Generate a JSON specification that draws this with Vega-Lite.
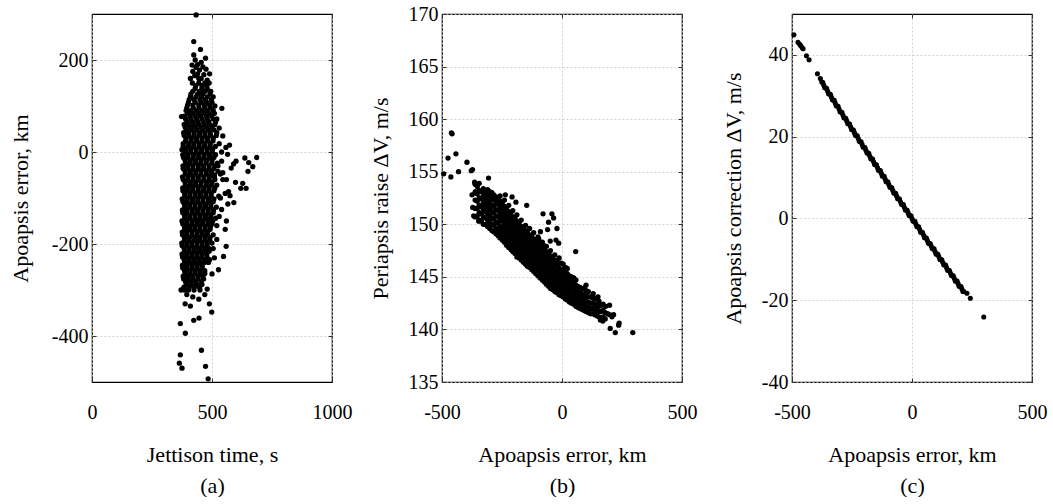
{
"$schema": "https://vega.github.io/schema/vega-lite/v6.json",
"padding": {"left": 8, "top": 3, "right": 5, "bottom": 0},
"background": "white",
"bounds": "flush",
"spacing": 110,
"config": {
  "font": "Liberation Serif, Times New Roman, serif",
  "view": {"stroke": "#000", "strokeWidth": 1.2},
  "axis": {"domain": false, "grid": true, "gridColor": "#c8c8c8", "gridDash": [2, 2], "gridWidth": 0.8, "ticks": true, "tickSize": -4, "tickColor": "#333", "labelFont": "Liberation Serif, Times New Roman, serif", "labelFontSize": 20, "labelColor": "#000", "titleFont": "Liberation Serif, Times New Roman, serif", "titleFontSize": 22, "titleFontWeight": "normal", "titleColor": "#000", "labelOverlap": false},
  "axisX": {"labelPadding": 24, "titlePadding": 22, "titleLineHeight": 31, "labelFlush": false},
  "axisY": {"labelPadding": 8, "titlePadding": 10}
},
"datasets": {
"a": [
{"t":418,"e":150},{"t":445,"e":150},{"t":470,"e":150},{"t":488,"e":150},
{"t":430,"e":138},{"t":458,"e":138},{"t":480,"e":138},
{"t":412,"e":126},{"t":440,"e":126},{"t":462,"e":126},{"t":492,"e":126},
{"t":405,"e":114},{"t":425,"e":114},{"t":450,"e":114},{"t":472,"e":114},{"t":497,"e":114},
{"t":398,"e":102},{"t":420,"e":102},{"t":445,"e":102},{"t":468,"e":102},{"t":490,"e":102},
{"t":392,"e":90},{"t":412,"e":90},{"t":436,"e":90},{"t":458,"e":90},{"t":480,"e":90},{"t":505,"e":90},
{"t":385,"e":78},{"t":408,"e":78},{"t":430,"e":78},{"t":452,"e":78},{"t":476,"e":78},{"t":498,"e":78},
{"t":396,"e":66},{"t":418,"e":66},{"t":440,"e":66},{"t":463,"e":66},{"t":486,"e":66},{"t":515,"e":66},
{"t":388,"e":54},{"t":410,"e":54},{"t":432,"e":54},{"t":455,"e":54},{"t":478,"e":54},{"t":500,"e":54},
{"t":382,"e":42},{"t":402,"e":42},{"t":425,"e":42},{"t":448,"e":42},{"t":470,"e":42},{"t":492,"e":42},{"t":520,"e":42},
{"t":392,"e":30},{"t":414,"e":30},{"t":436,"e":30},{"t":459,"e":30},{"t":481,"e":30},{"t":505,"e":30},
{"t":380,"e":18},{"t":403,"e":18},{"t":425,"e":18},{"t":447,"e":18},{"t":470,"e":18},{"t":493,"e":18},{"t":530,"e":18},
{"t":390,"e":6},{"t":412,"e":6},{"t":434,"e":6},{"t":457,"e":6},{"t":480,"e":6},{"t":502,"e":6},
{"t":378,"e":-6},{"t":400,"e":-6},{"t":423,"e":-6},{"t":445,"e":-6},{"t":468,"e":-6},{"t":490,"e":-6},{"t":515,"e":-6},
{"t":388,"e":-18},{"t":410,"e":-18},{"t":432,"e":-18},{"t":455,"e":-18},{"t":477,"e":-18},{"t":500,"e":-18},
{"t":379,"e":-30},{"t":398,"e":-30},{"t":420,"e":-30},{"t":443,"e":-30},{"t":465,"e":-30},{"t":488,"e":-30},{"t":512,"e":-30},
{"t":388,"e":-42},{"t":410,"e":-42},{"t":432,"e":-42},{"t":454,"e":-42},{"t":476,"e":-42},{"t":498,"e":-42},{"t":525,"e":-42},
{"t":377,"e":-54},{"t":400,"e":-54},{"t":421,"e":-54},{"t":443,"e":-54},{"t":466,"e":-54},{"t":489,"e":-54},{"t":510,"e":-54},
{"t":388,"e":-66},{"t":410,"e":-66},{"t":432,"e":-66},{"t":455,"e":-66},{"t":478,"e":-66},{"t":500,"e":-66},
{"t":378,"e":-78},{"t":399,"e":-78},{"t":420,"e":-78},{"t":443,"e":-78},{"t":466,"e":-78},{"t":488,"e":-78},{"t":512,"e":-78},
{"t":386,"e":-90},{"t":408,"e":-90},{"t":430,"e":-90},{"t":452,"e":-90},{"t":475,"e":-90},{"t":497,"e":-90},
{"t":376,"e":-102},{"t":397,"e":-102},{"t":419,"e":-102},{"t":441,"e":-102},{"t":463,"e":-102},{"t":486,"e":-102},{"t":508,"e":-102},
{"t":385,"e":-114},{"t":407,"e":-114},{"t":429,"e":-114},{"t":451,"e":-114},{"t":473,"e":-114},{"t":495,"e":-114},
{"t":377,"e":-126},{"t":396,"e":-126},{"t":418,"e":-126},{"t":440,"e":-126},{"t":462,"e":-126},{"t":484,"e":-126},{"t":506,"e":-126},
{"t":386,"e":-138},{"t":407,"e":-138},{"t":429,"e":-138},{"t":451,"e":-138},{"t":473,"e":-138},{"t":495,"e":-138},
{"t":375,"e":-150},{"t":396,"e":-150},{"t":418,"e":-150},{"t":440,"e":-150},{"t":461,"e":-150},{"t":483,"e":-150},{"t":503,"e":-150},
{"t":385,"e":-162},{"t":406,"e":-162},{"t":428,"e":-162},{"t":450,"e":-162},{"t":472,"e":-162},{"t":494,"e":-162},
{"t":376,"e":-174},{"t":396,"e":-174},{"t":417,"e":-174},{"t":439,"e":-174},{"t":460,"e":-174},{"t":482,"e":-174},
{"t":385,"e":-186},{"t":406,"e":-186},{"t":428,"e":-186},{"t":449,"e":-186},{"t":471,"e":-186},{"t":492,"e":-186},
{"t":374,"e":-198},{"t":395,"e":-198},{"t":416,"e":-198},{"t":438,"e":-198},{"t":459,"e":-198},{"t":480,"e":-198},{"t":500,"e":-198},
{"t":384,"e":-210},{"t":405,"e":-210},{"t":427,"e":-210},{"t":448,"e":-210},{"t":470,"e":-210},{"t":489,"e":-210},
{"t":375,"e":-222},{"t":395,"e":-222},{"t":416,"e":-222},{"t":437,"e":-222},{"t":458,"e":-222},{"t":478,"e":-222},
{"t":384,"e":-234},{"t":405,"e":-234},{"t":426,"e":-234},{"t":447,"e":-234},{"t":468,"e":-234},{"t":490,"e":-234},
{"t":377,"e":-246},{"t":396,"e":-246},{"t":417,"e":-246},{"t":438,"e":-246},{"t":459,"e":-246},
{"t":386,"e":-258},{"t":407,"e":-258},{"t":428,"e":-258},{"t":449,"e":-258},{"t":470,"e":-258},
{"t":380,"e":-270},{"t":400,"e":-270},{"t":420,"e":-270},{"t":442,"e":-270},{"t":462,"e":-270},
{"t":390,"e":-282},{"t":411,"e":-282},{"t":432,"e":-282},{"t":455,"e":-282},
{"t":383,"e":-294},{"t":405,"e":-294},{"t":426,"e":-294},{"t":448,"e":-294},
{"t":432,"e":144},{"t":458,"e":144},{"t":478,"e":144},
{"t":420,"e":132},{"t":448,"e":132},{"t":472,"e":132},{"t":495,"e":132},
{"t":410,"e":120},{"t":433,"e":120},{"t":456,"e":120},{"t":480,"e":120},
{"t":402,"e":108},{"t":430,"e":108},{"t":455,"e":108},{"t":478,"e":108},{"t":500,"e":108},
{"t":395,"e":96},{"t":422,"e":96},{"t":446,"e":96},{"t":470,"e":96},{"t":493,"e":96},
{"t":398,"e":84},{"t":420,"e":84},{"t":443,"e":84},{"t":466,"e":84},{"t":488,"e":84},{"t":510,"e":84},
{"t":390,"e":72},{"t":412,"e":72},{"t":435,"e":72},{"t":458,"e":72},{"t":480,"e":72},{"t":505,"e":72},
{"t":384,"e":60},{"t":400,"e":60},{"t":422,"e":60},{"t":444,"e":60},{"t":468,"e":60},{"t":490,"e":60},{"t":512,"e":60},
{"t":393,"e":48},{"t":415,"e":48},{"t":438,"e":48},{"t":461,"e":48},{"t":484,"e":48},{"t":508,"e":48},
{"t":384,"e":36},{"t":404,"e":36},{"t":426,"e":36},{"t":448,"e":36},{"t":471,"e":36},{"t":494,"e":36},{"t":518,"e":36},
{"t":390,"e":24},{"t":413,"e":24},{"t":436,"e":24},{"t":458,"e":24},{"t":481,"e":24},{"t":504,"e":24},
{"t":380,"e":12},{"t":401,"e":12},{"t":423,"e":12},{"t":446,"e":12},{"t":468,"e":12},{"t":491,"e":12},{"t":514,"e":12},
{"t":389,"e":0},{"t":411,"e":0},{"t":434,"e":0},{"t":456,"e":0},{"t":479,"e":0},{"t":501,"e":0},{"t":540,"e":0},
{"t":381,"e":-12},{"t":399,"e":-12},{"t":421,"e":-12},{"t":444,"e":-12},{"t":466,"e":-12},{"t":489,"e":-12},{"t":508,"e":-12},
{"t":390,"e":-24},{"t":409,"e":-24},{"t":431,"e":-24},{"t":453,"e":-24},{"t":476,"e":-24},{"t":499,"e":-24},{"t":522,"e":-24},
{"t":380,"e":-36},{"t":399,"e":-36},{"t":421,"e":-36},{"t":443,"e":-36},{"t":465,"e":-36},{"t":487,"e":-36},{"t":508,"e":-36},
{"t":389,"e":-48},{"t":410,"e":-48},{"t":432,"e":-48},{"t":454,"e":-48},{"t":477,"e":-48},{"t":499,"e":-48},{"t":535,"e":-48},
{"t":380,"e":-60},{"t":399,"e":-60},{"t":421,"e":-60},{"t":443,"e":-60},{"t":466,"e":-60},{"t":488,"e":-60},{"t":512,"e":-60},
{"t":389,"e":-72},{"t":410,"e":-72},{"t":431,"e":-72},{"t":453,"e":-72},{"t":476,"e":-72},{"t":497,"e":-72},{"t":520,"e":-72},
{"t":379,"e":-84},{"t":397,"e":-84},{"t":419,"e":-84},{"t":441,"e":-84},{"t":463,"e":-84},{"t":486,"e":-84},{"t":508,"e":-84},
{"t":387,"e":-96},{"t":408,"e":-96},{"t":430,"e":-96},{"t":452,"e":-96},{"t":474,"e":-96},{"t":496,"e":-96},{"t":528,"e":-96},
{"t":379,"e":-108},{"t":396,"e":-108},{"t":418,"e":-108},{"t":440,"e":-108},{"t":462,"e":-108},{"t":485,"e":-108},{"t":505,"e":-108},
{"t":387,"e":-120},{"t":407,"e":-120},{"t":429,"e":-120},{"t":451,"e":-120},{"t":473,"e":-120},{"t":495,"e":-120},{"t":518,"e":-120},
{"t":378,"e":-132},{"t":396,"e":-132},{"t":418,"e":-132},{"t":440,"e":-132},{"t":462,"e":-132},{"t":484,"e":-132},{"t":505,"e":-132},
{"t":386,"e":-144},{"t":407,"e":-144},{"t":429,"e":-144},{"t":450,"e":-144},{"t":472,"e":-144},{"t":494,"e":-144},{"t":515,"e":-144},
{"t":378,"e":-156},{"t":396,"e":-156},{"t":417,"e":-156},{"t":439,"e":-156},{"t":461,"e":-156},{"t":483,"e":-156},{"t":500,"e":-156},
{"t":386,"e":-168},{"t":406,"e":-168},{"t":428,"e":-168},{"t":449,"e":-168},{"t":471,"e":-168},{"t":492,"e":-168},
{"t":377,"e":-180},{"t":395,"e":-180},{"t":417,"e":-180},{"t":438,"e":-180},{"t":460,"e":-180},{"t":481,"e":-180},{"t":505,"e":-180},
{"t":385,"e":-192},{"t":405,"e":-192},{"t":427,"e":-192},{"t":448,"e":-192},{"t":470,"e":-192},{"t":490,"e":-192},
{"t":376,"e":-204},{"t":395,"e":-204},{"t":416,"e":-204},{"t":437,"e":-204},{"t":459,"e":-204},{"t":480,"e":-204},
{"t":385,"e":-216},{"t":405,"e":-216},{"t":426,"e":-216},{"t":447,"e":-216},{"t":468,"e":-216},{"t":488,"e":-216},
{"t":377,"e":-228},{"t":394,"e":-228},{"t":415,"e":-228},{"t":436,"e":-228},{"t":457,"e":-228},{"t":479,"e":-228},
{"t":386,"e":-240},{"t":406,"e":-240},{"t":427,"e":-240},{"t":448,"e":-240},{"t":468,"e":-240},{"t":485,"e":-240},
{"t":378,"e":-252},{"t":396,"e":-252},{"t":417,"e":-252},{"t":438,"e":-252},{"t":459,"e":-252},
{"t":388,"e":-264},{"t":408,"e":-264},{"t":429,"e":-264},{"t":450,"e":-264},{"t":470,"e":-264},
{"t":382,"e":-276},{"t":401,"e":-276},{"t":421,"e":-276},{"t":442,"e":-276},{"t":465,"e":-276},
{"t":393,"e":-288},{"t":414,"e":-288},{"t":436,"e":-288},{"t":458,"e":-288},
{"t":385,"e":-300},{"t":402,"e":-300},{"t":425,"e":-300},{"t":450,"e":-300},
{"t":440,"e":190},{"t":455,"e":195},{"t":462,"e":185},{"t":420,"e":175},{"t":475,"e":180},{"t":445,"e":160},{"t":490,"e":170},{"t":430,"e":200},{"t":410,"e":160},
{"t":434,"e":298},{"t":424,"e":240},{"t":452,"e":223},{"t":473,"e":204},{"t":424,"e":211},{"t":417,"e":189},{"t":433,"e":184},{"t":448,"e":178},{"t":466,"e":168},{"t":428,"e":166},{"t":455,"e":160},{"t":480,"e":156},{"t":440,"e":170},{"t":462,"e":128},{"t":505,"e":120},{"t":541,"e":95},{"t":373,"e":77},{"t":512,"e":100},{"t":520,"e":72},{"t":530,"e":52},{"t":545,"e":35},{"t":375,"e":5},{"t":558,"e":10},{"t":573,"e":15},{"t":590,"e":-26},{"t":565,"e":-5},{"t":580,"e":-35},{"t":600,"e":-20},{"t":637,"e":-13},{"t":686,"e":-12},{"t":653,"e":-23},{"t":670,"e":-32},{"t":650,"e":-42},{"t":628,"e":-68},{"t":642,"e":-79},{"t":620,"e":-79},{"t":598,"e":-66},{"t":591,"e":-110},{"t":566,"e":-113},{"t":569,"e":-86},{"t":545,"e":-60},{"t":555,"e":-90},{"t":540,"e":-125},{"t":530,"e":-140},{"t":560,"e":-150},{"t":555,"e":-168},{"t":559,"e":-205},{"t":548,"e":-227},{"t":527,"e":-256},{"t":520,"e":-190},{"t":510,"e":-230},{"t":500,"e":-265},{"t":371,"e":-300},{"t":395,"e":-310},{"t":420,"e":-315},{"t":445,"e":-320},{"t":470,"e":-310},{"t":489,"e":-330},{"t":499,"e":-348},{"t":410,"e":-335},{"t":388,"e":-330},{"t":424,"e":-366},{"t":446,"e":-361},{"t":368,"e":-373},{"t":389,"e":-394},{"t":456,"e":-431},{"t":368,"e":-441},{"t":364,"e":-459},{"t":375,"e":-470},{"t":473,"e":-466},{"t":484,"e":-493},{"t":480,"e":-298},{"t":505,"e":-210},{"t":520,"e":-160},{"t":535,"e":-100},{"t":510,"e":-50},{"t":540,"e":-20},{"t":525,"e":-30},{"t":545,"e":-45},{"t":560,"e":-60},{"t":575,"e":-95}
],
"b": [
{"e":-362,"p":150.7},{"e":-362,"p":151.5},{"e":-362,"p":152.3},{"e":-362,"p":153.0},{"e":-362,"p":153.8},
{"e":-345,"p":150.4},{"e":-345,"p":151.1},{"e":-345,"p":151.8},{"e":-345,"p":152.5},{"e":-345,"p":153.2},{"e":-345,"p":153.9},
{"e":-328,"p":150.0},{"e":-328,"p":150.7},{"e":-328,"p":151.4},{"e":-328,"p":152.0},{"e":-328,"p":152.7},{"e":-328,"p":153.4},
{"e":-310,"p":149.8},{"e":-310,"p":150.4},{"e":-310,"p":151.0},{"e":-310,"p":151.6},{"e":-310,"p":152.2},{"e":-310,"p":152.8},{"e":-310,"p":153.3},
{"e":-292,"p":149.4},{"e":-292,"p":150.0},{"e":-292,"p":150.6},{"e":-292,"p":151.2},{"e":-292,"p":151.8},{"e":-292,"p":152.4},{"e":-292,"p":153.0},
{"e":-275,"p":149.1},{"e":-275,"p":149.6},{"e":-275,"p":150.2},{"e":-275,"p":150.8},{"e":-275,"p":151.4},{"e":-275,"p":152.0},{"e":-275,"p":152.6},
{"e":-258,"p":148.7},{"e":-258,"p":149.3},{"e":-258,"p":149.8},{"e":-258,"p":150.4},{"e":-258,"p":151.0},{"e":-258,"p":151.6},{"e":-258,"p":152.2},{"e":-258,"p":152.7},
{"e":-240,"p":148.3},{"e":-240,"p":148.8},{"e":-240,"p":149.4},{"e":-240,"p":150.0},{"e":-240,"p":150.5},{"e":-240,"p":151.1},{"e":-240,"p":151.7},{"e":-240,"p":152.3},
{"e":-222,"p":147.8},{"e":-222,"p":148.4},{"e":-222,"p":148.9},{"e":-222,"p":149.5},{"e":-222,"p":150.1},{"e":-222,"p":150.6},{"e":-222,"p":151.2},{"e":-222,"p":151.8},
{"e":-205,"p":147.4},{"e":-205,"p":147.9},{"e":-205,"p":148.5},{"e":-205,"p":149.0},{"e":-205,"p":149.6},{"e":-205,"p":150.2},{"e":-205,"p":150.7},{"e":-205,"p":151.3},
{"e":-188,"p":146.9},{"e":-188,"p":147.5},{"e":-188,"p":148.0},{"e":-188,"p":148.6},{"e":-188,"p":149.1},{"e":-188,"p":149.7},{"e":-188,"p":150.3},{"e":-188,"p":150.9},
{"e":-170,"p":146.6},{"e":-170,"p":147.1},{"e":-170,"p":147.6},{"e":-170,"p":148.2},{"e":-170,"p":148.7},{"e":-170,"p":149.3},{"e":-170,"p":149.8},{"e":-170,"p":150.4},
{"e":-152,"p":146.2},{"e":-152,"p":146.7},{"e":-152,"p":147.2},{"e":-152,"p":147.8},{"e":-152,"p":148.3},{"e":-152,"p":148.9},{"e":-152,"p":149.4},{"e":-152,"p":149.9},
{"e":-135,"p":145.9},{"e":-135,"p":146.4},{"e":-135,"p":146.9},{"e":-135,"p":147.4},{"e":-135,"p":148.0},{"e":-135,"p":148.5},{"e":-135,"p":149.0},{"e":-135,"p":149.6},
{"e":-118,"p":145.5},{"e":-118,"p":146.0},{"e":-118,"p":146.5},{"e":-118,"p":147.0},{"e":-118,"p":147.6},{"e":-118,"p":148.1},{"e":-118,"p":148.6},{"e":-118,"p":149.2},
{"e":-100,"p":145.1},{"e":-100,"p":145.6},{"e":-100,"p":146.1},{"e":-100,"p":146.6},{"e":-100,"p":147.2},{"e":-100,"p":147.7},{"e":-100,"p":148.2},{"e":-100,"p":148.8},
{"e":-82,"p":144.7},{"e":-82,"p":145.2},{"e":-82,"p":145.7},{"e":-82,"p":146.2},{"e":-82,"p":146.7},{"e":-82,"p":147.2},{"e":-82,"p":147.8},{"e":-82,"p":148.3},
{"e":-65,"p":144.3},{"e":-65,"p":144.8},{"e":-65,"p":145.3},{"e":-65,"p":145.8},{"e":-65,"p":146.3},{"e":-65,"p":146.8},{"e":-65,"p":147.4},{"e":-65,"p":147.9},
{"e":-48,"p":143.9},{"e":-48,"p":144.4},{"e":-48,"p":144.9},{"e":-48,"p":145.4},{"e":-48,"p":145.9},{"e":-48,"p":146.4},{"e":-48,"p":147.0},{"e":-48,"p":147.5},
{"e":-30,"p":143.6},{"e":-30,"p":144.1},{"e":-30,"p":144.6},{"e":-30,"p":145.1},{"e":-30,"p":145.6},{"e":-30,"p":146.1},{"e":-30,"p":146.6},{"e":-30,"p":147.1},
{"e":-12,"p":143.3},{"e":-12,"p":143.8},{"e":-12,"p":144.3},{"e":-12,"p":144.8},{"e":-12,"p":145.3},{"e":-12,"p":145.8},{"e":-12,"p":146.3},{"e":-12,"p":146.8},
{"e":5,"p":143.1},{"e":5,"p":143.6},{"e":5,"p":144.1},{"e":5,"p":144.6},{"e":5,"p":145.1},{"e":5,"p":145.6},{"e":5,"p":146.2},
{"e":22,"p":142.8},{"e":22,"p":143.3},{"e":22,"p":143.8},{"e":22,"p":144.3},{"e":22,"p":144.8},{"e":22,"p":145.3},{"e":22,"p":145.8},
{"e":40,"p":142.5},{"e":40,"p":143.0},{"e":40,"p":143.5},{"e":40,"p":144.0},{"e":40,"p":144.5},{"e":40,"p":145.0},
{"e":58,"p":142.2},{"e":58,"p":142.7},{"e":58,"p":143.2},{"e":58,"p":143.7},{"e":58,"p":144.2},{"e":58,"p":144.7},
{"e":75,"p":142.0},{"e":75,"p":142.5},{"e":75,"p":143.0},{"e":75,"p":143.5},{"e":75,"p":144.0},
{"e":92,"p":141.8},{"e":92,"p":142.3},{"e":92,"p":142.8},{"e":92,"p":143.3},{"e":92,"p":143.9},
{"e":110,"p":141.6},{"e":110,"p":142.1},{"e":110,"p":142.6},{"e":110,"p":143.1},{"e":110,"p":143.6},
{"e":128,"p":141.5},{"e":128,"p":142.0},{"e":128,"p":142.5},{"e":128,"p":143.0},
{"e":145,"p":141.3},{"e":145,"p":141.8},{"e":145,"p":142.3},{"e":145,"p":142.9},
{"e":162,"p":141.1},{"e":162,"p":141.7},{"e":162,"p":142.3},
{"e":180,"p":141.0},{"e":180,"p":141.6},{"e":180,"p":142.2},
{"e":198,"p":141.4},{"e":198,"p":142.3},
{"e":-353,"p":150.8},{"e":-353,"p":151.5},{"e":-353,"p":152.2},{"e":-353,"p":152.9},{"e":-353,"p":153.6},
{"e":-336,"p":150.3},{"e":-336,"p":151.0},{"e":-336,"p":151.7},{"e":-336,"p":152.4},{"e":-336,"p":153.1},
{"e":-319,"p":150.0},{"e":-319,"p":150.6},{"e":-319,"p":151.2},{"e":-319,"p":151.8},{"e":-319,"p":152.4},{"e":-319,"p":153.0},
{"e":-301,"p":149.6},{"e":-301,"p":150.2},{"e":-301,"p":150.8},{"e":-301,"p":151.4},{"e":-301,"p":152.0},{"e":-301,"p":152.6},{"e":-301,"p":153.1},
{"e":-284,"p":149.3},{"e":-284,"p":149.9},{"e":-284,"p":150.5},{"e":-284,"p":151.1},{"e":-284,"p":151.7},{"e":-284,"p":152.3},{"e":-284,"p":152.8},
{"e":-266,"p":148.9},{"e":-266,"p":149.5},{"e":-266,"p":150.1},{"e":-266,"p":150.7},{"e":-266,"p":151.3},{"e":-266,"p":151.9},{"e":-266,"p":152.4},
{"e":-249,"p":148.5},{"e":-249,"p":149.1},{"e":-249,"p":149.7},{"e":-249,"p":150.3},{"e":-249,"p":150.8},{"e":-249,"p":151.4},{"e":-249,"p":152.0},
{"e":-231,"p":148.0},{"e":-231,"p":148.6},{"e":-231,"p":149.2},{"e":-231,"p":149.7},{"e":-231,"p":150.3},{"e":-231,"p":150.9},{"e":-231,"p":151.5},
{"e":-213,"p":147.6},{"e":-213,"p":148.2},{"e":-213,"p":148.7},{"e":-213,"p":149.3},{"e":-213,"p":149.9},{"e":-213,"p":150.4},{"e":-213,"p":151.0},
{"e":-196,"p":147.2},{"e":-196,"p":147.7},{"e":-196,"p":148.3},{"e":-196,"p":148.8},{"e":-196,"p":149.4},{"e":-196,"p":150.0},{"e":-196,"p":150.6},
{"e":-179,"p":146.8},{"e":-179,"p":147.3},{"e":-179,"p":147.8},{"e":-179,"p":148.4},{"e":-179,"p":148.9},{"e":-179,"p":149.5},{"e":-179,"p":150.1},
{"e":-161,"p":146.4},{"e":-161,"p":146.9},{"e":-161,"p":147.4},{"e":-161,"p":148.0},{"e":-161,"p":148.5},{"e":-161,"p":149.1},{"e":-161,"p":149.6},
{"e":-144,"p":146.0},{"e":-144,"p":146.5},{"e":-144,"p":147.0},{"e":-144,"p":147.6},{"e":-144,"p":148.1},{"e":-144,"p":148.7},{"e":-144,"p":149.2},
{"e":-126,"p":145.7},{"e":-126,"p":146.2},{"e":-126,"p":146.7},{"e":-126,"p":147.2},{"e":-126,"p":147.8},{"e":-126,"p":148.3},{"e":-126,"p":148.8},
{"e":-109,"p":145.3},{"e":-109,"p":145.8},{"e":-109,"p":146.3},{"e":-109,"p":146.8},{"e":-109,"p":147.4},{"e":-109,"p":147.9},{"e":-109,"p":148.4},
{"e":-91,"p":144.9},{"e":-91,"p":145.4},{"e":-91,"p":145.9},{"e":-91,"p":146.4},{"e":-91,"p":146.9},{"e":-91,"p":147.5},{"e":-91,"p":148.0},
{"e":-73,"p":144.5},{"e":-73,"p":145.0},{"e":-73,"p":145.5},{"e":-73,"p":146.0},{"e":-73,"p":146.5},{"e":-73,"p":147.0},{"e":-73,"p":147.6},
{"e":-56,"p":144.1},{"e":-56,"p":144.6},{"e":-56,"p":145.1},{"e":-56,"p":145.6},{"e":-56,"p":146.1},{"e":-56,"p":146.6},{"e":-56,"p":147.2},
{"e":-39,"p":143.8},{"e":-39,"p":144.3},{"e":-39,"p":144.8},{"e":-39,"p":145.3},{"e":-39,"p":145.8},{"e":-39,"p":146.3},{"e":-39,"p":146.8},
{"e":-21,"p":143.5},{"e":-21,"p":144.0},{"e":-21,"p":144.5},{"e":-21,"p":145.0},{"e":-21,"p":145.5},{"e":-21,"p":146.0},{"e":-21,"p":146.5},
{"e":-3,"p":143.2},{"e":-3,"p":143.7},{"e":-3,"p":144.2},{"e":-3,"p":144.7},{"e":-3,"p":145.2},{"e":-3,"p":145.7},{"e":-3,"p":146.3},
{"e":14,"p":142.9},{"e":14,"p":143.4},{"e":14,"p":143.9},{"e":14,"p":144.4},{"e":14,"p":144.9},{"e":14,"p":145.4},{"e":14,"p":145.9},
{"e":31,"p":142.6},{"e":31,"p":143.1},{"e":31,"p":143.6},{"e":31,"p":144.1},{"e":31,"p":144.6},{"e":31,"p":145.1},
{"e":49,"p":142.4},{"e":49,"p":142.9},{"e":49,"p":143.4},{"e":49,"p":143.9},{"e":49,"p":144.4},{"e":49,"p":144.9},
{"e":66,"p":142.1},{"e":66,"p":142.6},{"e":66,"p":143.1},{"e":66,"p":143.6},{"e":66,"p":144.1},
{"e":84,"p":141.9},{"e":84,"p":142.4},{"e":84,"p":142.9},{"e":84,"p":143.4},{"e":84,"p":143.9},
{"e":101,"p":141.7},{"e":101,"p":142.2},{"e":101,"p":142.7},{"e":101,"p":143.2},{"e":101,"p":143.7},
{"e":119,"p":141.5},{"e":119,"p":142.0},{"e":119,"p":142.5},{"e":119,"p":143.1},
{"e":137,"p":141.4},{"e":137,"p":141.9},{"e":137,"p":142.4},{"e":137,"p":142.9},
{"e":154,"p":141.2},{"e":154,"p":141.7},{"e":154,"p":142.2},{"e":154,"p":142.7},
{"e":171,"p":141.2},{"e":171,"p":141.8},{"e":171,"p":142.4},
{"e":-493,"p":154.8},{"e":-475,"p":156.3},{"e":-463,"p":154.5},{"e":-461,"p":158.7},{"e":-458,"p":158.6},{"e":-442,"p":156.7},{"e":-431,"p":155.0},{"e":-396,"p":155.9},{"e":-378,"p":155.1},{"e":-373,"p":155.2},{"e":-364,"p":154.0},{"e":-306,"p":154.4},{"e":-361,"p":153.1},{"e":-375,"p":152.8},{"e":-372,"p":151.6},{"e":-368,"p":150.8},{"e":-347,"p":150.3},{"e":-292,"p":152.8},{"e":-236,"p":152.8},{"e":-208,"p":152.6},{"e":-192,"p":152.1},{"e":-147,"p":151.8},{"e":-97,"p":148.6},{"e":-90,"p":149.3},{"e":-79,"p":151.0},{"e":-42,"p":151.0},{"e":-56,"p":150.2},{"e":-35,"p":150.6},{"e":-21,"p":149.6},{"e":-14,"p":148.2},{"e":-49,"p":148.4},{"e":-76,"p":148.0},{"e":-60,"p":149.5},{"e":-25,"p":148.5},{"e":57,"p":147.4},{"e":181,"p":142.2},{"e":201,"p":140.1},{"e":208,"p":141.2},{"e":222,"p":139.7},{"e":236,"p":140.4},{"e":238,"p":140.6},{"e":295,"p":139.7},{"e":160,"p":140.9},{"e":170,"p":140.8},{"e":190,"p":141.5},{"e":215,"p":141.4},{"e":130,"p":143.4},{"e":150,"p":143.1},{"e":100,"p":144.2}
],
"c": [
{"e":-492,"v":44.9},{"e":-475,"v":43.1},{"e":-468,"v":42.6},{"e":-464,"v":42.3},{"e":-458,"v":41.8},{"e":-454,"v":41.5},{"e":-440,"v":39.8},{"e":-429,"v":38.8},{"e":-394,"v":35.4},{"e":-382,"v":34.2},
{"e":-376,"v":33.37},{"e":-368,"v":32.63},{"e":-360,"v":31.9},{"e":-352,"v":31.16},{"e":-344,"v":30.42},{"e":-336,"v":29.69},{"e":-328,"v":28.96},{"e":-320,"v":28.22},{"e":-312,"v":27.49},{"e":-304,"v":26.76},{"e":-296,"v":26.04},{"e":-288,"v":25.31},{"e":-280,"v":24.58},{"e":-272,"v":23.86},{"e":-264,"v":23.14},{"e":-256,"v":22.42},{"e":-248,"v":21.7},{"e":-240,"v":20.98},{"e":-232,"v":20.26},{"e":-224,"v":19.54},{"e":-216,"v":18.83},{"e":-208,"v":18.11},{"e":-200,"v":17.4},{"e":-192,"v":16.69},{"e":-184,"v":15.98},{"e":-176,"v":15.27},{"e":-168,"v":14.56},{"e":-160,"v":13.86},{"e":-152,"v":13.15},{"e":-144,"v":12.45},{"e":-136,"v":11.75},{"e":-128,"v":11.04},{"e":-120,"v":10.34},{"e":-112,"v":9.65},{"e":-104,"v":8.95},{"e":-96,"v":8.25},{"e":-88,"v":7.56},{"e":-80,"v":6.86},{"e":-72,"v":6.17},{"e":-64,"v":5.48},{"e":-56,"v":4.79},{"e":-48,"v":4.1},{"e":-40,"v":3.42},{"e":-32,"v":2.73},{"e":-24,"v":2.05},{"e":-16,"v":1.36},{"e":-8,"v":0.68},{"e":0,"v":0},{"e":8,"v":-0.68},{"e":16,"v":-1.36},{"e":24,"v":-2.03},{"e":32,"v":-2.71},{"e":40,"v":-3.38},{"e":48,"v":-4.06},{"e":56,"v":-4.73},{"e":64,"v":-5.4},{"e":72,"v":-6.07},{"e":80,"v":-6.74},{"e":88,"v":-7.4},{"e":96,"v":-8.07},{"e":104,"v":-8.73},{"e":112,"v":-9.39},{"e":120,"v":-10.06},{"e":128,"v":-10.72},{"e":136,"v":-11.38},{"e":144,"v":-12.03},{"e":152,"v":-12.69},{"e":160,"v":-13.34},{"e":168,"v":-14.0},{"e":176,"v":-14.65},{"e":184,"v":-15.3},{"e":192,"v":-15.95},{"e":200,"v":-16.6},{"e":208,"v":-17.25},{"e":216,"v":-17.89},
{"e":-372,"v":33.3},{"e":-364,"v":32.0},{"e":-356,"v":31.83},{"e":-348,"v":30.49},{"e":-340,"v":30.36},{"e":-332,"v":29.03},{"e":-324,"v":28.89},{"e":-316,"v":27.56},{"e":-308,"v":27.43},{"e":-300,"v":26.1},{"e":-292,"v":25.98},{"e":-284,"v":24.65},{"e":-276,"v":24.52},{"e":-268,"v":23.2},{"e":-260,"v":23.08},{"e":-252,"v":21.76},{"e":-244,"v":21.64},{"e":-236,"v":20.32},{"e":-228,"v":20.2},{"e":-220,"v":18.89},{"e":-212,"v":18.77},{"e":-204,"v":17.46},{"e":-196,"v":17.35},{"e":-188,"v":16.04},{"e":-180,"v":15.93},{"e":-172,"v":14.62},{"e":-164,"v":14.51},{"e":-156,"v":13.21},{"e":-148,"v":13.1},{"e":-140,"v":11.8},{"e":-132,"v":11.7},{"e":-124,"v":10.39},{"e":-116,"v":10.3},{"e":-108,"v":9.0},{"e":-100,"v":8.9},{"e":-92,"v":7.61},{"e":-84,"v":7.51},{"e":-76,"v":6.22},{"e":-68,"v":6.13},{"e":-60,"v":4.84},{"e":-52,"v":4.75},{"e":-44,"v":3.46},{"e":-36,"v":3.38},{"e":-28,"v":2.09},{"e":-20,"v":2.01},{"e":-12,"v":0.72},{"e":-4,"v":0.64},{"e":4,"v":-0.64},{"e":12,"v":-0.72},{"e":20,"v":-2.0},{"e":28,"v":-2.07},{"e":36,"v":-3.35},{"e":44,"v":-3.42},{"e":52,"v":-4.7},{"e":60,"v":-4.77},{"e":68,"v":-6.04},{"e":76,"v":-6.11},{"e":84,"v":-7.37},{"e":92,"v":-7.44},{"e":100,"v":-8.7},{"e":108,"v":-8.76},{"e":116,"v":-10.03},{"e":124,"v":-10.09},{"e":132,"v":-11.35},{"e":140,"v":-11.41},{"e":148,"v":-12.66},{"e":156,"v":-12.72},{"e":164,"v":-13.97},{"e":172,"v":-14.03},{"e":180,"v":-15.28},{"e":188,"v":-15.33},{"e":196,"v":-16.58},{"e":204,"v":-16.63},{"e":212,"v":-17.87},
{"e":229,"v":-18.3},{"e":243,"v":-19.5},{"e":299,"v":-24.1}
]
},
"hconcat": [
{
  "width": 240, "height": 368,
  "layer": [
    {"data": {"name": "a"}, "mark": {"type": "point", "filled": true, "size": 28, "color": "#000", "opacity": 1},
     "encoding": {
       "x": {"field": "t", "type": "quantitative", "scale": {"domain": [0, 1000], "nice": false, "zero": false},
             "axis": {"values": [0, 500, 1000], "title": ["Jettison time, s", "(a)"], "titleFont": "Liberation Serif, Times New Roman, serif", "labelExpr": "'' + datum.value"}},
       "y": {"field": "e", "type": "quantitative", "scale": {"domain": [-500, 300], "nice": false, "zero": false},
             "axis": {"values": [-400, -200, 0, 200], "title": "Apoapsis error, km", "titleFont": "Liberation Serif, Times New Roman, serif", "minExtent": 50, "maxExtent": 50, "labelExpr": "'' + datum.value"}}
     }},
    {"data": {"name": "a"}, "mark": {"type": "point", "opacity": 0},
     "encoding": {
       "x": {"field": "t", "type": "quantitative", "scale": {"domain": [0, 1000], "nice": false, "zero": false},
             "axis": {"orient": "top", "values": [0, 500, 1000], "labels": false, "grid": false, "title": null, "minExtent": 0, "maxExtent": 0}},
       "y": {"field": "e", "type": "quantitative", "scale": {"domain": [-500, 300], "nice": false, "zero": false},
             "axis": {"orient": "right", "values": [-400, -200, 0, 200], "labels": false, "grid": false, "title": null, "minExtent": 0, "maxExtent": 0}}
     }}
  ],
  "resolve": {"scale": {"x": "independent", "y": "independent"}}
},
{
  "width": 240, "height": 368,
  "layer": [
    {"data": {"name": "b"}, "mark": {"type": "point", "filled": true, "size": 28, "color": "#000", "opacity": 1},
     "encoding": {
       "x": {"field": "e", "type": "quantitative", "scale": {"domain": [-500, 500], "nice": false, "zero": false},
             "axis": {"values": [-500, 0, 500], "title": ["Apoapsis error, km", "(b)"], "titleFont": "Liberation Serif, Times New Roman, serif", "labelExpr": "'' + datum.value"}},
       "y": {"field": "p", "type": "quantitative", "scale": {"domain": [135, 170], "nice": false, "zero": false},
             "axis": {"values": [135, 140, 145, 150, 155, 160, 165, 170], "title": "Periapsis raise ΔV, m/s", "titleFont": "Liberation Serif, Times New Roman, serif", "minExtent": 40, "maxExtent": 40, "labelExpr": "'' + datum.value"}}
     }},
    {"data": {"name": "b"}, "mark": {"type": "point", "opacity": 0},
     "encoding": {
       "x": {"field": "e", "type": "quantitative", "scale": {"domain": [-500, 500], "nice": false, "zero": false},
             "axis": {"orient": "top", "values": [-500, 0, 500], "labels": false, "grid": false, "title": null, "minExtent": 0, "maxExtent": 0}},
       "y": {"field": "p", "type": "quantitative", "scale": {"domain": [135, 170], "nice": false, "zero": false},
             "axis": {"orient": "right", "values": [135, 140, 145, 150, 155, 160, 165, 170], "labels": false, "grid": false, "title": null, "minExtent": 0, "maxExtent": 0}}
     }}
  ],
  "resolve": {"scale": {"x": "independent", "y": "independent"}}
},
{
  "width": 240, "height": 368,
  "layer": [
    {"data": {"name": "c"}, "mark": {"type": "point", "filled": true, "size": 26, "color": "#000", "opacity": 1},
     "encoding": {
       "x": {"field": "e", "type": "quantitative", "scale": {"domain": [-500, 500], "nice": false, "zero": false},
             "axis": {"values": [-500, 0, 500], "title": ["Apoapsis error, km", "(c)"], "titleFont": "Liberation Serif, Times New Roman, serif", "labelExpr": "'' + datum.value"}},
       "y": {"field": "v", "type": "quantitative", "scale": {"domain": [-40, 50], "nice": false, "zero": false},
             "axis": {"values": [-40, -20, 0, 20, 40], "title": "Apoapsis correction ΔV, m/s", "titleFont": "Liberation Serif, Times New Roman, serif", "minExtent": 37, "maxExtent": 37, "labelExpr": "'' + datum.value"}}
     }},
    {"data": {"name": "c"}, "mark": {"type": "point", "opacity": 0},
     "encoding": {
       "x": {"field": "e", "type": "quantitative", "scale": {"domain": [-500, 500], "nice": false, "zero": false},
             "axis": {"orient": "top", "values": [-500, 0, 500], "labels": false, "grid": false, "title": null, "minExtent": 0, "maxExtent": 0}},
       "y": {"field": "v", "type": "quantitative", "scale": {"domain": [-40, 50], "nice": false, "zero": false},
             "axis": {"orient": "right", "values": [-40, -20, 0, 20, 40], "labels": false, "grid": false, "title": null, "minExtent": 0, "maxExtent": 0}}
     }}
  ],
  "resolve": {"scale": {"x": "independent", "y": "independent"}}
}
]
}
